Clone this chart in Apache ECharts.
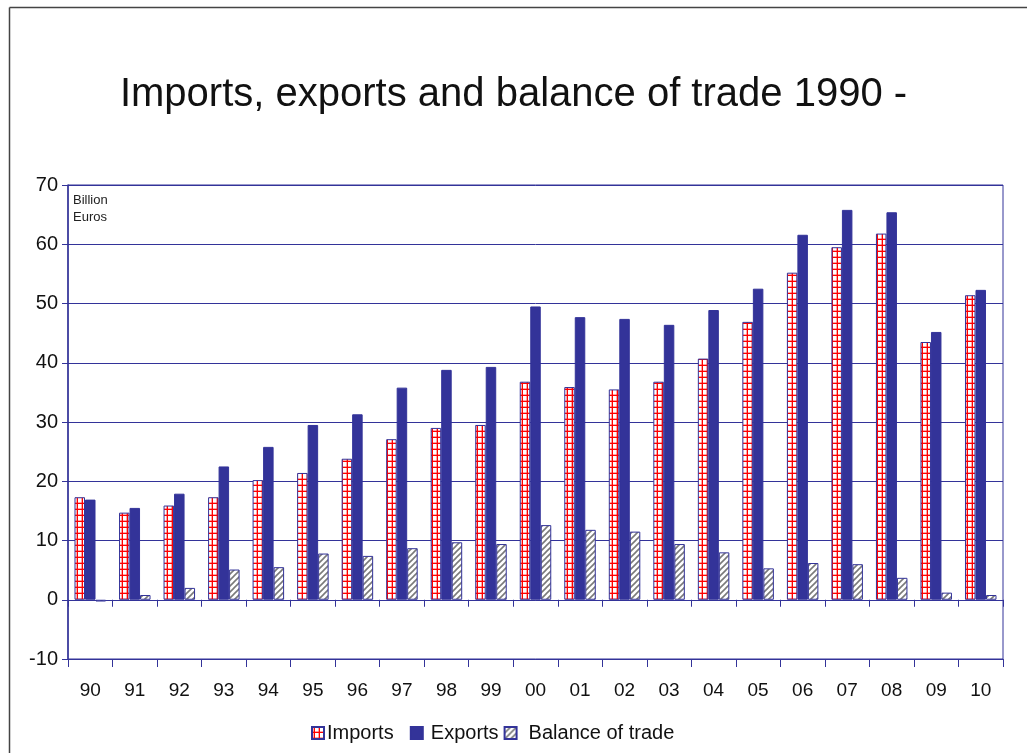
<!DOCTYPE html>
<html>
<head>
<meta charset="utf-8">
<script src="https://cdn.jsdelivr.net/npm/echarts@6/dist/echarts.min.js"></script>
<style>
  html, body { margin: 0; padding: 0; background: #fff; }
  #chart { width: 1027px; height: 753px; }
</style>
</head>
<body>
<div id="chart"></div>
<script>
// Years 1990-2010, billion euros
const years = ['90','91','92','93','94','95','96','97','98','99','00','01','02','03','04','05','06','07','08','09','10'];
const imports = [17.3, 14.7, 15.9, 17.3, 20.2, 21.4, 23.8, 27.1, 29.0, 29.5, 36.8, 35.9, 35.5, 36.8, 40.7, 46.9, 55.2, 59.5, 61.8, 43.5, 51.4];
const exports = [16.9, 15.5, 17.9, 22.5, 25.8, 29.5, 31.3, 35.8, 38.8, 39.3, 49.5, 47.7, 47.4, 46.4, 48.9, 52.5, 61.6, 65.8, 65.4, 45.2, 52.3];
const balance = [-0.3, 0.8, 2.0, 5.1, 5.5, 7.8, 7.4, 8.7, 9.7, 9.4, 12.6, 11.8, 11.5, 9.4, 8.0, 5.3, 6.2, 6.0, 3.7, 1.2, 0.8];
const yTicks = { min: -10, max: 70, step: 10 };

const NAVY = '#333399';
const FONT = '"Liberation Sans", Arial, sans-serif';

// Red grid fill for imports
function gridPattern() {
  const c = document.createElement('canvas');
  c.width = 5; c.height = 6;
  const g = c.getContext('2d');
  g.fillStyle = '#ffffff';
  g.fillRect(0, 0, 5, 6);
  g.fillStyle = 'rgba(255,0,0,0.35)';
  g.fillRect(0, 4, 5, 1);
  g.fillRect(1, 0, 1, 6);
  g.fillStyle = '#ff0000';
  g.fillRect(0, 5, 5, 1);
  g.fillRect(2, 0, 1, 6);
  return c;
}
// Grey diagonal hatch for balance of trade
function hatchPattern() {
  const c = document.createElement('canvas');
  c.width = 6; c.height = 6;
  const g = c.getContext('2d');
  g.fillStyle = '#ffffff';
  g.fillRect(0, 0, 6, 6);
  g.strokeStyle = '#7a7a7a';
  g.lineWidth = 1.6;
  g.beginPath();
  g.moveTo(-1, 7); g.lineTo(7, -1);
  g.moveTo(-4, 4); g.lineTo(4, -4);
  g.moveTo(2, 10); g.lineTo(10, 2);
  g.stroke();
  return c;
}

const chart = echarts.init(document.getElementById('chart'), null, { renderer: 'canvas' });

const barW = 10.5;
chart.setOption({
  animation: false,
  backgroundColor: '#ffffff',
  textStyle: { fontFamily: FONT },
  title: {
    text: 'Imports, exports and balance of trade 1990 -',
    left: 'center',
    top: 70,
    textStyle: { fontFamily: FONT, fontSize: 40, fontWeight: 'normal', color: '#111' }
  },
  graphic: [
    { type: 'line', shape: { x1: 9.5, y1: 7.5, x2: 1027, y2: 7.5 }, style: { stroke: '#444', lineWidth: 1.5 } },
    { type: 'line', shape: { x1: 9.5, y1: 7.5, x2: 9.5, y2: 753 }, style: { stroke: '#444', lineWidth: 1.5 } },
    { type: 'text', left: 73, top: 192, style: { text: 'Billion\nEuros', fontFamily: FONT, fontSize: 13, lineHeight: 17, fill: '#222' } }
  ],
  legend: {
    bottom: 10,
    left: 311,
    padding: 0,
    itemWidth: 12,
    itemHeight: 12,
    itemGap: 5,
    icon: 'rect',
    formatter: name => (name === 'Imports' ? name + '  ' : name),
    textStyle: { fontFamily: FONT, fontSize: 20, color: '#111' },
    data: [
      { name: 'Imports', textStyle: { padding: [0, 0, 0, -2] } },
      { name: 'Exports', textStyle: { padding: [0, 0, 0, 3] } },
      { name: 'Balance of trade', textStyle: { padding: [0, 0, 0, 7] } }
    ]
  },
  grid: {
    left: 68, right: 24, top: 185, bottom: 94,
    show: true, borderColor: NAVY, borderWidth: 1, backgroundColor: 'transparent'
  },
  xAxis: [
    {
      type: 'category', data: years, position: 'bottom',
      axisLine: { show: true, onZero: true, lineStyle: { color: NAVY, width: 1 } },
      axisTick: { show: true, length: 7, lineStyle: { color: NAVY } },
      axisLabel: { show: false }
    },
    {
      type: 'category', data: years, position: 'bottom',
      axisLine: { show: true, onZero: false, lineStyle: { color: NAVY, width: 1 } },
      axisTick: { show: true, length: 8, lineStyle: { color: NAVY } },
      axisLabel: { show: true, fontFamily: FONT, fontSize: 19, color: '#111', margin: 22 }
    }
  ],
  yAxis: {
    type: 'value', min: yTicks.min, max: yTicks.max, interval: yTicks.step,
    axisLine: { show: true, lineStyle: { color: NAVY, width: 1.5 } },
    axisTick: { show: true, length: 6, lineStyle: { color: NAVY } },
    axisLabel: { fontFamily: FONT, fontSize: 20, color: '#111', margin: 10 },
    splitLine: { show: true, lineStyle: { color: NAVY, width: 1 } }
  },
  series: [
    {
      name: 'Imports', type: 'bar', xAxisIndex: 0, data: imports, barWidth: barW, barGap: '0%',
      itemStyle: { color: { image: gridPattern(), repeat: 'repeat' }, borderColor: NAVY, borderWidth: 1 }
    },
    {
      name: 'Exports', type: 'bar', xAxisIndex: 0, data: exports, barWidth: barW, barGap: '0%',
      itemStyle: { color: NAVY, borderColor: NAVY, borderWidth: 1 }
    },
    {
      name: 'Balance of trade', type: 'bar', xAxisIndex: 0, data: balance, barWidth: barW, barGap: '0%',
      itemStyle: { color: { image: hatchPattern(), repeat: 'repeat' }, borderColor: NAVY, borderWidth: 1 }
    }
  ]
});
</script>
</body>
</html>
